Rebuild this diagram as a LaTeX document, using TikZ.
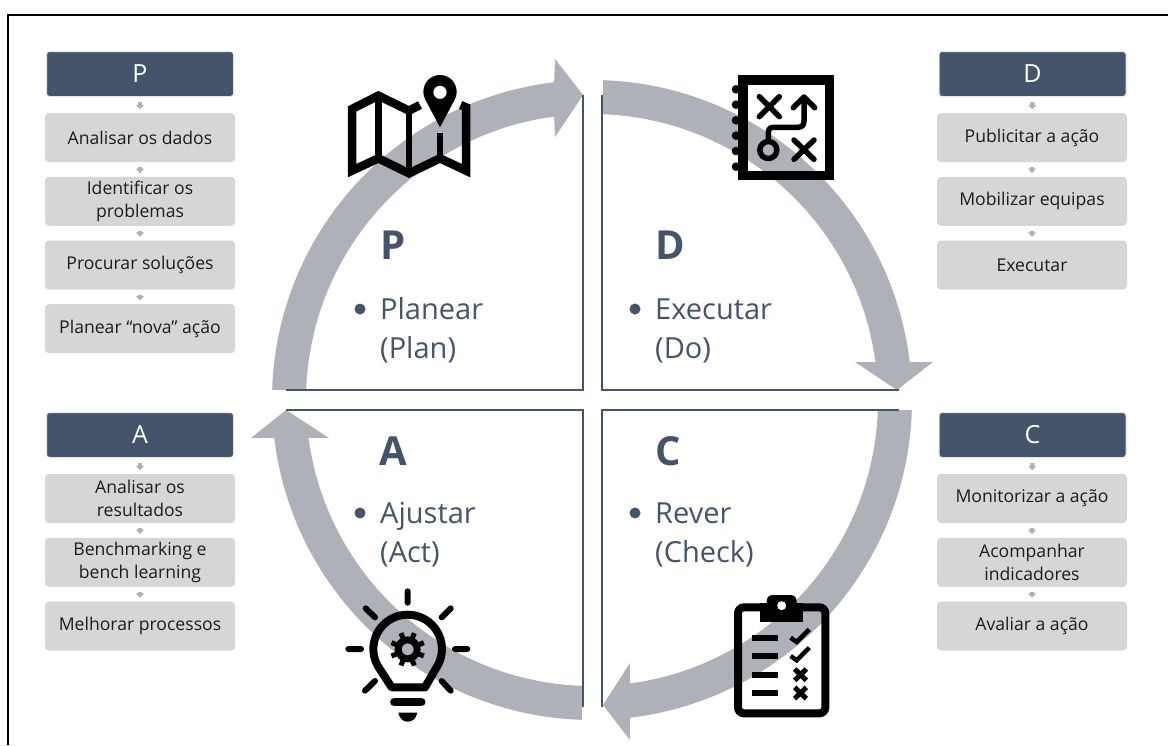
\documentclass[tikz,border=0pt]{standalone}
\usepackage{fontspec}
\setmainfont{Open Sans}
\usetikzlibrary{arrows.meta}
\definecolor{navy}{HTML}{44546A}
\definecolor{arcgray}{HTML}{AEB1B8}
\definecolor{lightgray}{HTML}{D5D6D8}
\definecolor{rimgray}{HTML}{E6E7E9}
\definecolor{inktext}{HTML}{1C1C1C}
\tikzset{
  headbox/.style={draw=rimgray,line width=1pt,fill=navy,rounded corners=3pt,minimum width=187pt,minimum height=45pt,inner sep=0pt,text=white,font=\fontsize{25}{27}\selectfont},
  lightbox/.style={fill=lightgray,rounded corners=4pt,minimum width=190pt,minimum height=49pt,inner sep=0pt,text=inktext,align=center,font=\fontsize{17.6}{22.8}\selectfont},
  minor/.style={draw=arcgray,line width=4pt,-{Triangle[length=4.5pt,width=8pt]},shorten >=3.5pt,shorten <=5pt},
  frameline/.style={draw=black,line width=2pt},
  quad/.style={draw=navy,line width=1.7pt},
  letter/.style={anchor=base west,inner sep=0pt,text=navy,font=\fontsize{40}{44}\selectfont\bfseries},
  word/.style={anchor=base west,inner sep=0pt,text=navy,font=\fontsize{29}{32}\selectfont},
  icon/.style={draw=black,line cap=round,line join=round},
}
\newcommand{\ctr}{592pt,-400pt}
\begin{document}
\begin{tikzpicture}[x=1pt,y=-1pt]
\useasboundingbox (0,0) rectangle (1168,745);
\fill[white] (0,0) rectangle (1168,745);
% frame
\draw[frameline] (8,745) -- (8,15) -- (1168,15);
% big arrows
\fill[arcgray] ([shift={(\ctr)}]178.2:320pt) arc[start angle=178.2,end angle=96.8,radius=320pt]
  -- (555,59) -- (583,95) -- (555,137) -- ([shift={(\ctr)}]97.6:286pt) arc[start angle=97.6,end angle=178,radius=286pt] -- cycle;
\fill[arcgray] ([shift={(\ctr)}]88:320pt) arc[start angle=88,end angle=6.8,radius=320pt]
  -- (933,362) -- (897,390) -- (855,362) -- ([shift={(\ctr)}]7.6:286pt) arc[start angle=7.6,end angle=87.8,radius=286pt] -- cycle;
\fill[arcgray] ([shift={(\ctr)}]-1.8:320pt) arc[start angle=-1.8,end angle=-83.2,radius=320pt]
  -- (630,740) -- (603,705) -- (630,663) -- ([shift={(\ctr)}]-82.4:286pt) arc[start angle=-82.4,end angle=-2,radius=286pt] -- cycle;
\fill[arcgray] ([shift={(\ctr)}]268.2:320pt) arc[start angle=268.2,end angle=186.8,radius=320pt]
  -- (251,438) -- (286,410) -- (329,438) -- ([shift={(\ctr)}]187.6:286pt) arc[start angle=187.6,end angle=268,radius=286pt] -- cycle;
% quadrant lines
\draw[quad] (583,95) -- (583,390) -- (286,390);
\draw[quad] (602,95) -- (602,390) -- (899,390);
\draw[quad] (286,410) -- (583,410) -- (583,707);
\draw[quad] (899,410) -- (602,410) -- (602,707);
% quadrant texts
\node[letter] (lp) at (380,259) {P};
\node[letter] (ld) at (655,259) {D};
\node[letter] (la) at (379,465) {A};
\node[letter] (lc) at (655,465) {C};
\fill[navy] (360,309) circle (5.5pt);
\fill[navy] (635,309) circle (5.5pt);
\fill[navy] (360,513) circle (5.5pt);
\fill[navy] (635,513) circle (5.5pt);
\node[word] (w1) at (380,319) {Planear};
\node[word] (w2) at (380,358) {(Plan)};
\node[word] (w3) at (655,319) {Executar};
\node[word] (w4) at (655,358) {(Do)};
\node[word] (w5) at (380,523) {Ajustar};
\node[word] (w6) at (380,562) {(Act)};
\node[word] (w7) at (655,523) {Rever};
\node[word] (w8) at (655,562) {(Check)};
% P column
\node[headbox] (p0) at (140,74) {P};
\node[lightbox] (p1) at (140,137.5) {Analisar os dados};
\node[lightbox] (p2) at (140,201.3) {Identificar os\\problemas};
\node[lightbox] (p3) at (140,265) {Procurar soluções};
\node[lightbox] (p4) at (140,328.7) {Planear “nova” ação};
\draw[minor] (p0) -- (p1);
\draw[minor] (p1) -- (p2);
\draw[minor] (p2) -- (p3);
\draw[minor] (p3) -- (p4);
% A column
\node[headbox] (a0) at (140,435) {A};
\node[lightbox] (a1) at (140,498.5) {Analisar os\\resultados};
\node[lightbox] (a2) at (140,562.3) {Benchmarking e\\bench learning};
\node[lightbox] (a3) at (140,626) {Melhorar processos};
\draw[minor] (a0) -- (a1);
\draw[minor] (a1) -- (a2);
\draw[minor] (a2) -- (a3);
% D column
\node[headbox] (d0) at (1032.5,74) {D};
\node[lightbox] (d1) at (1032,137.5) {Publicitar a ação};
\node[lightbox] (d2) at (1032,201.3) {Mobilizar equipas};
\node[lightbox] (d3) at (1032,265) {Executar};
\draw[minor] (d0) -- (d1);
\draw[minor] (d1) -- (d2);
\draw[minor] (d2) -- (d3);
% C column
\node[headbox] (c0) at (1032.5,435) {C};
\node[lightbox] (c1) at (1032,498.5) {Monitorizar a ação};
\node[lightbox] (c2) at (1032,562.3) {Acompanhar\\indicadores};
\node[lightbox] (c3) at (1032,626) {Avaliar a ação};
\draw[minor] (c0) -- (c1);
\draw[minor] (c1) -- (c2);
\draw[minor] (c2) -- (c3);
% map icon
\begin{scope}[xshift=330pt,yshift=-50pt,x=0.33333pt,y=-0.33333pt]
  \draw[icon,line width=8.5pt,line cap=butt,line join=miter]
    (270,165) -- (237,182) -- (145,137) -- (66,177) -- (66,362) -- (145,325) -- (237,370) -- (330,325) -- (408,362) -- (408,172) -- (392,165);
  \draw[icon,line width=6.5pt,line cap=butt] (145,137) -- (145,325);
  \draw[icon,line width=6.5pt,line cap=butt] (237,182) -- (237,370);
  \draw[icon,line width=6pt,line cap=butt] (330,250) -- (330,325);
  \fill[black,even odd rule] (330,232) -- ([shift={(330,125)}]-28:16.67pt) arc[start angle=-28,end angle=208,radius=16.67pt] -- cycle
    (330,127) circle (6.7pt);
\end{scope}
% notebook icon
\begin{scope}[xshift=700pt,yshift=-50pt,x=0.33333pt,y=-0.33333pt]
  \foreach \yy in {118,164,211,257,303,350} \fill[black] (108,\yy) circle (4.3pt);
  \draw[black,line width=9.4pt] (129,90) rectangle (389,377);
  \draw[icon,line width=5.5pt] (178,140) -- (238,200) (238,140) -- (178,200);
  \draw[icon,line width=5.5pt] (282,270) -- (342,328) (342,270) -- (282,328);
  \draw[icon,line width=5.5pt] (205,270) -- (205,248) .. controls (205,237) and (210,232) .. (222,232) -- (292,232) .. controls (307,232) and (312,225) .. (312,212) -- (312,145);
  \draw[icon,line width=5.5pt] (280,173) -- (312,141) -- (344,173);
  \draw[icon,line width=5.5pt] (205,300) circle (8.5pt);
\end{scope}
% bulb icon
\begin{scope}[xshift=330pt,yshift=-570pt,x=0.33333pt,y=-0.33333pt]
  \draw[icon,line width=6pt] (233,64) -- (233,98) (107,115) -- (135,142) (362,115) -- (335,142)
     (55,237) -- (93,237) (375,237) -- (412,237) (105,362) -- (135,333) (362,362) -- (335,333);
  \draw[icon,line width=8pt] (185,352) -- ([shift={(233,237)}]215:34.3pt) arc[start angle=215,end angle=-35,radius=34.3pt] -- (285,352) -- cycle;
  \draw[icon,line width=8.5pt] (193,396) -- (274,396);
  \fill[black] (205,428) -- (262,428) .. controls (258,448) and (245,455) .. (233,455) .. controls (221,455) and (209,448) .. (205,428) -- cycle;
  \fill[black,even odd rule] (233,238) circle (13pt) (233,238) circle (6pt);
  \foreach \aa in {0,45,...,315}
    \draw[black,line width=5pt] ([shift={(233,238)}]\aa+22.5:11pt) -- ([shift={(233,238)}]\aa+22.5:17.5pt);
\end{scope}
% clipboard icon
\begin{scope}[xshift=600pt,yshift=-570pt,x=0.33333pt,y=-0.33333pt]
  \draw[black,line width=8pt,rounded corners=6pt] (414,112) rectangle (676,430);
  \fill[black] (480,100) rectangle (610,157);
  \fill[black,rounded corners=6pt] (500,75) rectangle (590,120);
  \fill[white] (545,107) circle (4.5pt);
  \draw[black,line width=6pt] (457,203) -- (535,203) (457,258) -- (535,258) (457,314) -- (535,314) (457,369) -- (535,369);
  \draw[black,line width=4.5pt] (572,203) -- (590,216) -- (628,178);
  \draw[black,line width=4.5pt] (572,258) -- (590,271) -- (628,233);
  \draw[black,line width=5pt] (584,297) -- (619,331) (619,297) -- (584,331);
  \draw[black,line width=5pt] (584,352) -- (619,386) (619,352) -- (584,386);
\end{scope}
\end{tikzpicture}
\end{document}
